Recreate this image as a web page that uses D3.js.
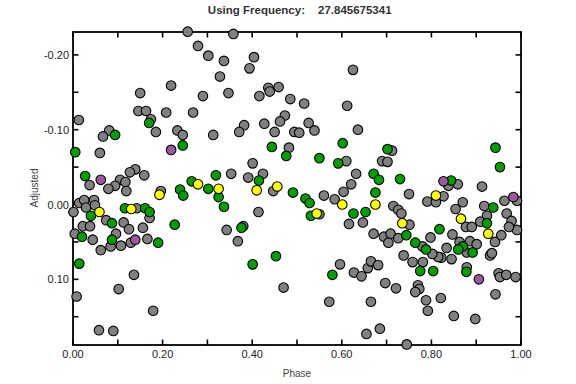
<!DOCTYPE html>
<html><head><meta charset="utf-8">
<script src="https://cdn.jsdelivr.net/npm/d3@7"></script>
<style>body{margin:0;background:#fff}svg{display:block}</style>
</head><body>
<svg id="c" width="576" height="384"></svg>
<script>
const xTicksMajor = [0, 0.2, 0.4, 0.6, 0.8, 1.0];
const xTicksAll = [0,0.1,0.2,0.3,0.4,0.5,0.6,0.7,0.8,0.9,1.0];
const yTicksMajor = [-0.2, -0.1, 0, 0.1];
const yTicksAll = [-0.2,-0.15,-0.1,-0.05,0,0.05,0.1,0.15];
const titleLabel = "Using Frequency:";
const titleValue = "27.845675341";

const grayPts = [
[0.256,-0.231],[0.279,-0.212],[0.302,-0.199],[0.337,-0.192],[0.328,-0.171],[0.219,-0.159],[0.150,-0.149],[0.290,-0.145],[0.347,-0.149],[0.146,-0.125],[0.163,-0.125],[0.208,-0.123],[0.268,-0.123],[0.174,-0.114],[0.185,-0.097],[0.013,-0.113],[0.081,-0.099],[0.067,-0.091],[0.233,-0.099],[0.245,-0.093],[0.313,-0.093],[0.060,-0.069],[0.139,-0.047],[0.127,-0.043],[0.159,-0.039],[0.037,-0.026],[0.105,-0.033],[0.117,-0.030],[0.094,-0.025],[0.079,-0.021],[0.119,-0.018],[0.196,-0.018],[0.353,-0.041],
[0.001,0.010],[0.014,-0.002],[0.025,-0.006],[0.029,0.004],[0.047,-0.006],[0.049,0.001],[0.074,0.021],[0.022,0.029],[0.038,0.029],[0.004,0.039],[0.044,0.047],[0.062,0.061],[0.096,0.039],[0.113,0.024],[0.125,0.033],[0.084,0.056],[0.107,0.055],[0.129,0.051],[0.142,0.005],[0.171,0.018],[0.156,0.031],[0.166,0.046],[0.343,0.034],[0.136,0.094],[0.102,0.113],[0.008,0.123],[0.179,0.142],[0.058,0.168],[0.090,0.169],
[0.358,-0.228],[0.404,-0.197],[0.394,-0.182],[0.436,-0.156],[0.459,-0.157],[0.439,-0.151],[0.416,-0.145],[0.485,-0.141],[0.516,-0.135],[0.625,-0.180],[0.612,-0.132],[0.473,-0.119],[0.462,-0.111],[0.382,-0.106],[0.371,-0.097],[0.427,-0.108],[0.450,-0.097],[0.526,-0.109],[0.539,-0.099],[0.494,-0.097],[0.505,-0.096],[0.636,-0.100],[0.482,-0.076],[0.610,-0.058],[0.401,-0.055],[0.391,-0.036],[0.424,-0.041],[0.447,-0.018],[0.632,-0.041],[0.621,-0.027],[0.560,-0.012],[0.604,-0.017],
[0.584,-0.007],[0.550,0.013],[0.616,0.026],[0.647,0.024],[0.671,0.039],[0.414,0.010],[0.380,0.029],[0.368,0.049],[0.470,0.111],[0.596,0.080],[0.627,0.091],[0.644,0.096],[0.658,0.085],[0.665,0.076],[0.681,0.081],[0.572,0.130],[0.665,0.130],[0.655,0.173],[0.685,0.166],
[0.712,-0.072],[0.690,-0.058],[0.702,-0.057],[0.750,-0.014],[0.838,-0.025],[0.859,-0.027],[0.913,-0.024],[0.827,-0.011],
[0.791,-0.004],[0.810,-0.003],[0.715,0.002],[0.726,0.007],[0.733,0.012],[0.751,0.027],[0.780,0.056],[0.694,0.043],[0.709,0.039],[0.704,0.051],[0.726,0.045],[0.798,0.044],[0.854,0.006],[0.870,-0.003],[0.877,0.030],[0.890,0.030],[0.847,0.040],[0.863,0.050],[0.886,0.049],[0.901,0.053],[0.879,0.064],[0.834,0.058],[0.845,0.073],[0.822,0.071],[0.815,0.070],[0.802,0.066],[0.738,0.068],[0.758,0.077],[0.781,0.077],[0.879,0.084],[0.931,0.068],[0.935,0.065],[0.918,0.002],[0.924,0.015],[0.909,0.023],[0.963,-0.005],[0.991,-0.005],[0.968,0.012],[0.979,0.022],[0.991,0.034],[0.973,0.030],[0.942,0.050],[0.956,0.041],[0.950,0.092],[0.953,0.097],[0.967,0.094],[0.988,0.097],[0.697,0.105],[0.721,0.112],[0.770,0.108],[0.773,0.113],[0.764,0.117],[0.821,0.125],[0.788,0.128],[0.792,0.142],[0.943,0.120],[0.850,0.149],[0.898,0.153],[0.745,0.187]
];
const greenPts = [
[0.170,-0.109],[0.094,-0.093],[0.245,-0.079],[0.005,-0.070],[0.027,-0.038],[0.265,-0.031],[0.319,-0.039],[0.302,-0.021],[0.239,-0.020],[0.246,-0.012],
[0.325,-0.010],[0.337,0.003],[0.040,0.015],[0.087,0.025],[0.020,0.043],[0.087,0.047],[0.116,0.005],[0.161,0.005],[0.171,0.010],[0.190,0.051],[0.227,0.027],[0.014,0.079],
[0.444,-0.077],[0.476,-0.065],[0.550,-0.062],[0.602,-0.082],[0.592,-0.055],[0.415,-0.032],[0.491,-0.016],[0.671,-0.041],[0.683,-0.033],[0.675,-0.016],
[0.519,-0.008],[0.528,-0.002],[0.531,0.015],[0.626,0.012],[0.653,0.010],[0.376,0.031],[0.401,0.080],[0.453,0.069],[0.579,0.094],
[0.702,-0.074],[0.730,-0.034],[0.943,-0.076],[0.953,-0.050],[0.844,-0.032],
[0.744,0.041],[0.764,0.051],[0.788,0.060],[0.818,0.033],[0.870,0.056],[0.860,0.060],[0.892,0.064],[0.775,0.089],[0.804,0.089],[0.878,0.090],[0.924,0.025],[0.938,0.004]
];
const yellowPts = [
[0.279,-0.027],[0.325,-0.021],[0.193,-0.013],[0.059,0.010],[0.130,0.006],[0.410,-0.019],[0.456,-0.024],[0.601,0.000],[0.675,0.000],[0.544,0.012],[0.810,-0.012],[0.735,0.025],[0.866,0.019],[0.927,0.039]
];
const purplePts = [
[0.219,-0.073],[0.062,-0.033],[0.139,0.047],[0.827,-0.031],[0.983,-0.010],[0.906,0.100]
];

const L = 73, R = 521, T = 32, B = 345;
const x = d3.scaleLinear().domain([0, 1]).range([L, R]);
const y = d3.scaleLinear().domain([-0.2306, 0.1878]).range([T, B]);
const svg = d3.select("#c");
const fmt = v => (Math.abs(v) < 1e-9 ? 0 : v).toFixed(2);
const font = "'Liberation Sans', Arial, sans-serif";

// ticks (inward)
const tl = 5.5;
const g = svg.append("g").attr("stroke", "#000").attr("stroke-width", 1.6);
xTicksAll.forEach(t => {
  g.append("line").attr("x1", x(t)).attr("x2", x(t)).attr("y1", B).attr("y2", B - tl);
  g.append("line").attr("x1", x(t)).attr("x2", x(t)).attr("y1", T).attr("y2", T + tl);
});
yTicksAll.forEach(t => {
  g.append("line").attr("x1", L).attr("x2", L + tl).attr("y1", y(t)).attr("y2", y(t));
  g.append("line").attr("x1", R).attr("x2", R - tl).attr("y1", y(t)).attr("y2", y(t));
});
svg.append("rect").attr("x", L).attr("y", T).attr("width", R - L).attr("height", B - T)
  .attr("fill", "none").attr("stroke", "#000").attr("stroke-width", 1.8);

// tick labels
svg.append("g").selectAll("text").data(xTicksMajor).join("text")
  .attr("x", d => x(d)).attr("y", 358).attr("text-anchor", "middle")
  .attr("font-family", font).attr("font-size", 11).attr("fill", "#222").text(fmt);
svg.append("g").selectAll("text").data(yTicksMajor).join("text")
  .attr("x", 69).attr("y", d => y(d) + 4).attr("text-anchor", "end")
  .attr("font-family", font).attr("font-size", 11).attr("fill", "#222").text(fmt);

// axis titles
svg.append("text").attr("x", (L + R) / 2).attr("y", 377).attr("text-anchor", "middle")
  .attr("font-family", font).attr("font-size", 10).attr("fill", "#444").text("Phase");
svg.append("text").attr("transform", "translate(38,188) rotate(-90)").attr("text-anchor", "middle")
  .attr("font-family", font).attr("font-size", 10).attr("fill", "#444").text("Adjusted");

// title
svg.append("text").attr("x", 305).attr("y", 14).attr("text-anchor", "end")
  .attr("font-family", font).attr("font-size", 11.5).attr("font-weight", "bold").attr("fill", "#333").text(titleLabel);
svg.append("text").attr("x", 318).attr("y", 14).attr("text-anchor", "start")
  .attr("font-family", font).attr("font-size", 11.5).attr("font-weight", "bold").attr("fill", "#333").text(titleValue);

// points
const series = [
  {pts: grayPts, color: "#808080"},
  {pts: greenPts, color: "#00a000"},
  {pts: yellowPts, color: "#ffff00"},
  {pts: purplePts, color: "#9b58a0"}
];
series.forEach(s => {
  svg.append("g").selectAll("circle").data(s.pts).join("circle")
    .attr("cx", d => x(d[0])).attr("cy", d => y(d[1])).attr("r", 4.8)
    .attr("fill", s.color).attr("stroke", "#000").attr("stroke-width", 1.1);
});
</script>
</body></html>
